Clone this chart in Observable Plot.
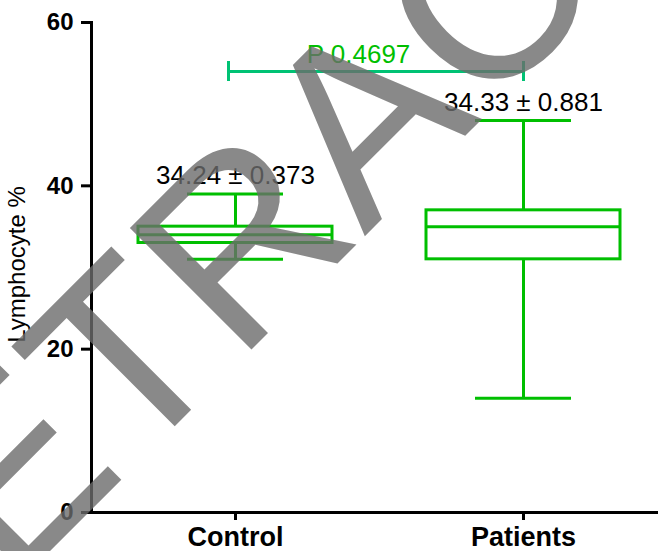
<!DOCTYPE html>
<html>
<head>
<meta charset="utf-8">
<script src="https://cdn.jsdelivr.net/npm/d3@7"></script>
<script src="https://cdn.jsdelivr.net/npm/@observablehq/plot@0.6"></script>
<style>
  body { margin: 0; background: #fff; }
  #chart svg { display: block; }
</style>
</head>
<body>
<div id="chart"></div>
<script>
// Lymphocyte % by group: box (quartiles), median and whisker range
const groups = ["Control", "Patients"];
const whiskerLow = [31, 14];
const q1 = [33, 31];
const median = [34, 35];
const q3 = [35, 37];
const whiskerHigh = [39, 48];
const means = ["34.24", "34.33"];
const sems = ["0.373", "0.881"];
const yTicks = [0, 20, 40, 60];
const pValueText = "P 0.4697";
const bracketY = 54;
const yLabel = "Lymphocyte %";
const watermark = "RETRACTED";

const boxColor = "#00bf00";
const bracketColor = "#00c274";
const W = 658, H = 551, mL = 91, mT = 22, mB = 39;

const boxes = groups.map((g, i) => ({
  group: g,
  lo: whiskerLow[i],
  q1: q1[i],
  med: median[i],
  q3: q3[i],
  hi: whiskerHigh[i],
  label: `${means[i]} \u00b1 ${sems[i]}`
}));

const chart = Plot.plot({
  width: W,
  height: H,
  marginTop: mT,
  marginBottom: mB,
  marginLeft: mL,
  marginRight: 0,
  style: {
    fontFamily: "'Liberation Sans', Arial, sans-serif",
    background: "white",
    color: "black",
    overflow: "visible"
  },
  x: {type: "band", domain: groups, range: [138, 620], paddingInner: 0.3264, paddingOuter: 0},
  y: {domain: [0, 60]},
  marks: [
    // whiskers
    Plot.ruleX(boxes, {x: "group", y1: "lo", y2: "q1", stroke: boxColor, strokeWidth: 3}),
    Plot.ruleX(boxes, {x: "group", y1: "q3", y2: "hi", stroke: boxColor, strokeWidth: 3}),
    // whisker caps
    Plot.tickY(boxes, {x: "group", y: "lo", stroke: boxColor, strokeWidth: 3, insetLeft: 49, insetRight: 49}),
    Plot.tickY(boxes, {x: "group", y: "hi", stroke: boxColor, strokeWidth: 3, insetLeft: 49, insetRight: 49}),
    // interquartile box and median
    Plot.barY(boxes, {x: "group", y1: "q1", y2: "q3", fill: "none", stroke: boxColor, strokeWidth: 3}),
    Plot.tickY(boxes, {x: "group", y: "med", stroke: boxColor, strokeWidth: 3}),
    // mean ± SEM labels
    Plot.text(boxes, {x: "group", y: "hi", text: "label", dy: -10, lineAnchor: "bottom", fontSize: 26, fill: "black"}),
    // significance bracket
    Plot.ruleY([bracketY], {y: d => d, x1: () => groups[0], x2: () => groups[1], insetLeft: 90, insetRight: 97, stroke: bracketColor, strokeWidth: 3}),
    Plot.ruleX([bracketY], {x: () => groups[0], y1: d => d, y2: d => d, dx: -7, insetTop: -10, insetBottom: -10, stroke: bracketColor, strokeWidth: 3}),
    Plot.ruleX([bracketY], {x: () => groups[1], y1: d => d, y2: d => d, insetTop: -10, insetBottom: -10, stroke: bracketColor, strokeWidth: 3}),
    Plot.text([pValueText], {x: () => groups[0], y: () => bracketY, text: d => d, dx: 123, dy: -9, lineAnchor: "bottom", fontSize: 26, fill: boxColor}),
    // axis lines
    Plot.frame({anchor: "left", stroke: "black", strokeWidth: 3}),
    Plot.ruleY([0], {stroke: "black", strokeWidth: 3, insetLeft: -1.5}),
    // tick marks: short rules outside the frame
    Plot.ruleY(yTicks, {y: d => d, insetLeft: -10, insetRight: W - mL, stroke: "black", strokeWidth: 3}),
    Plot.ruleX(groups, {x: d => d, insetTop: H - mT - mB, insetBottom: -8, stroke: "black", strokeWidth: 3}),
    // tick labels
    Plot.axisY({ticks: yTicks, tickSize: 0, tickPadding: 18, fontSize: 24, fontWeight: "bold", label: null}),
    Plot.axisX({tickSize: 0, tickPadding: 14, fontSize: 27, fontWeight: "bold", label: null}),
    Plot.text([yLabel], {frameAnchor: "left", rotate: -90, dx: -74, dy: -3, text: d => d, textAnchor: "middle", fontSize: 24, fill: "black"}),
    // diagonal stamp across the plot
    Plot.text([watermark], {frameAnchor: "top-left", dx: 332, dy: 155, rotate: -45, text: d => d,
      fontSize: 250, textAnchor: "middle", lineAnchor: "bottom", fill: "#6b6b6b", fillOpacity: 0.8})
  ]
});

document.getElementById("chart").appendChild(chart);
</script>
</body>
</html>
